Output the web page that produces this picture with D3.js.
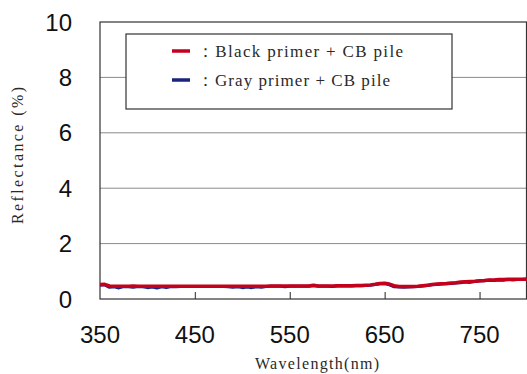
<!DOCTYPE html>
<html>
<head>
<meta charset="utf-8">
<script src="https://cdn.jsdelivr.net/npm/d3@7"></script>
<style>
  html, body { margin: 0; padding: 0; background: #fff; }
  svg { display: block; }
</style>
</head>
<body>
<svg id="chart" width="527" height="374"></svg>
<script>
// Wavelength samples (nm)
const wavelengths = [350,355,360,365,370,375,380,385,390,395,400,405,410,415,420,425,430,435,440,445,450,455,460,465,470,475,480,485,490,495,500,505,510,515,520,525,530,535,540,545,550,555,560,565,570,575,580,585,590,595,600,605,610,615,620,625,630,635,640,645,650,655,660,665,670,675,680,685,690,695,700,705,710,715,720,725,730,735,740,745,750,755,760,765,770,775,780,785,790,795,800];

// Reflectance (%) — black primer + CB pile
const blackPrimer = [0.52,0.53,0.47,0.46,0.46,0.46,0.46,0.47,0.46,0.46,0.46,0.46,0.46,0.46,0.46,0.46,0.46,0.46,0.46,0.46,0.46,0.46,0.46,0.46,0.46,0.46,0.46,0.46,0.46,0.46,0.46,0.46,0.46,0.46,0.46,0.46,0.47,0.47,0.47,0.47,0.47,0.47,0.47,0.47,0.47,0.50,0.47,0.47,0.47,0.47,0.48,0.48,0.48,0.48,0.49,0.49,0.50,0.51,0.53,0.56,0.57,0.54,0.48,0.45,0.45,0.45,0.45,0.46,0.48,0.50,0.52,0.54,0.55,0.56,0.58,0.59,0.61,0.62,0.63,0.64,0.66,0.67,0.69,0.69,0.70,0.70,0.71,0.71,0.71,0.71,0.72];

// Reflectance (%) — gray primer + CB pile
const grayPrimer = [0.50,0.51,0.42,0.44,0.40,0.45,0.44,0.42,0.45,0.44,0.41,0.43,0.40,0.44,0.41,0.45,0.44,0.45,0.45,0.45,0.45,0.45,0.45,0.45,0.45,0.45,0.45,0.44,0.42,0.44,0.41,0.43,0.41,0.44,0.42,0.45,0.46,0.46,0.46,0.44,0.46,0.46,0.46,0.46,0.46,0.48,0.46,0.46,0.46,0.45,0.47,0.47,0.47,0.47,0.48,0.48,0.49,0.50,0.52,0.55,0.56,0.51,0.44,0.43,0.42,0.43,0.44,0.45,0.47,0.49,0.51,0.52,0.54,0.55,0.56,0.58,0.59,0.61,0.60,0.63,0.65,0.66,0.68,0.67,0.69,0.68,0.70,0.69,0.70,0.70,0.71];

const xTicks = [350,450,550,650,750];
const yTicks = [0,2,4,6,8,10];
const legendLabels = ["：Black primer + CB pile", "：Gray primer + CB pile"];
const seriesColors = ["#c4001c", "#1b2380"];

const svg = d3.select("#chart");
const plot = { left: 100, right: 527, top: 22, bottom: 299 };

const x = d3.scaleLinear().domain([350, 800]).range([plot.left, plot.right]);
const y = d3.scaleLinear().domain([0, 10]).range([plot.bottom, plot.top]);

// horizontal gridlines
svg.append("g")
  .selectAll("line")
  .data(yTicks.filter(d => d > 0 && d < 10))
  .join("line")
  .attr("x1", plot.left).attr("x2", plot.right)
  .attr("y1", d => y(d)).attr("y2", d => y(d))
  .attr("stroke", "#8a8a8a").attr("stroke-width", 1);

// inward ticks on the wavelength axis
svg.append("g")
  .attr("transform", `translate(0,${plot.bottom})`)
  .call(d3.axisBottom(x).tickValues(xTicks.slice(1)).tickSize(-7).tickFormat(""))
  .call(g => g.select(".domain").remove())
  .call(g => g.selectAll("line").attr("stroke", "#555").attr("stroke-width", 1.3));

// frame
svg.append("rect")
  .attr("x", plot.left).attr("y", plot.top)
  .attr("width", plot.right - plot.left - 0.5)
  .attr("height", plot.bottom - plot.top)
  .attr("fill", "none").attr("stroke", "#333").attr("stroke-width", 1.2);

// tick labels
svg.append("g")
  .selectAll("text")
  .data(xTicks)
  .join("text")
  .attr("x", d => x(d)).attr("y", 343)
  .attr("text-anchor", "middle")
  .attr("font-family", "Liberation Sans, Arial, sans-serif")
  .attr("font-size", 24)
  .attr("fill", "#111")
  .text(d => d);

svg.append("g")
  .selectAll("text")
  .data(yTicks)
  .join("text")
  .attr("x", 72).attr("y", d => y(d) + 8.5)
  .attr("text-anchor", "end")
  .attr("font-family", "Liberation Sans, Arial, sans-serif")
  .attr("font-size", 24)
  .attr("fill", "#111")
  .text(d => d);

// axis titles
svg.append("text")
  .attr("x", 255).attr("y", 369)
  .attr("textLength", 124).attr("lengthAdjust", "spacing")
  .attr("font-family", "Liberation Serif, serif")
  .attr("font-size", 16)
  .attr("fill", "#2a2a2a")
  .text("Wavelength(nm)");

svg.append("text")
  .attr("transform", "translate(23,224) rotate(-90)")
  .attr("x", 0).attr("y", 0)
  .attr("textLength", 137).attr("lengthAdjust", "spacing")
  .attr("font-family", "Liberation Serif, serif")
  .attr("font-size", 16)
  .attr("fill", "#2a2a2a")
  .text("Reflectance (%)");

// spectra
const line = d3.line()
  .x((d, i) => x(wavelengths[i]))
  .y(d => y(d));

[grayPrimer, blackPrimer].forEach((vals, k) => {
  svg.append("path")
    .datum(vals)
    .attr("d", line)
    .attr("fill", "none")
    .attr("stroke", k === 0 ? seriesColors[1] : seriesColors[0])
    .attr("stroke-width", k === 0 ? 3 : 3.5)
    .attr("stroke-linejoin", "round");
});

// legend
const legend = svg.append("g");
legend.append("rect")
  .attr("x", 126).attr("y", 34)
  .attr("width", 326).attr("height", 75)
  .attr("fill", "#fff").attr("stroke", "#333").attr("stroke-width", 1.2);

const legendY = [51, 80];
const legendLen = [206, 193];
legendLabels.forEach((label, i) => {
  legend.append("line")
    .attr("x1", 172).attr("x2", 190)
    .attr("y1", legendY[i]).attr("y2", legendY[i])
    .attr("stroke", seriesColors[i]).attr("stroke-width", 3.5);
  legend.append("text")
    .attr("x", 197).attr("y", legendY[i] + 6)
    .attr("textLength", legendLen[i]).attr("lengthAdjust", "spacing")
    .attr("font-family", "Liberation Serif, serif")
    .attr("font-size", 17)
    .attr("fill", "#2a2a2a")
    .text(label);
});
</script>
</body>
</html>
